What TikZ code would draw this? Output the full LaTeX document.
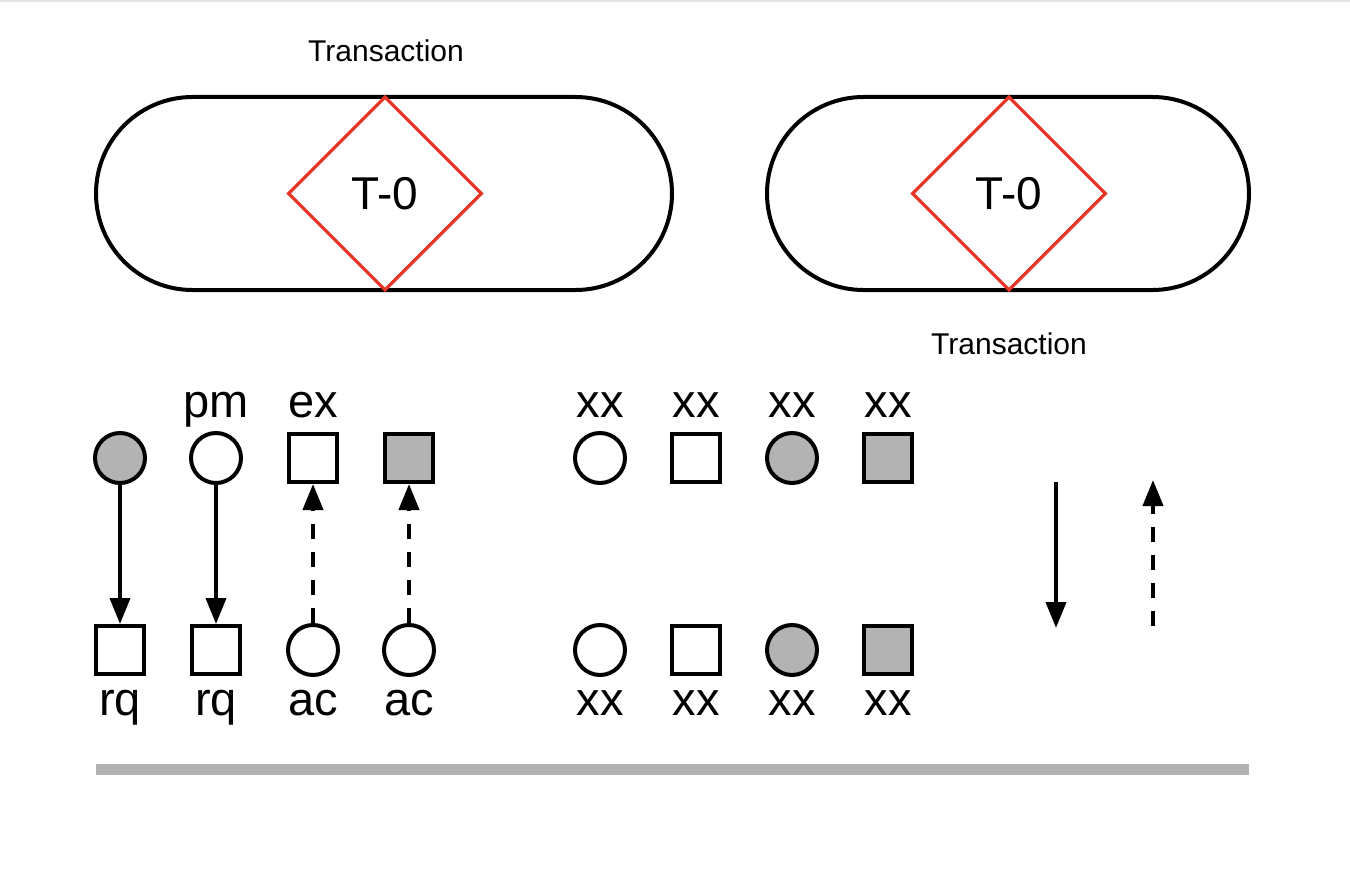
\documentclass[tikz,border=0pt]{standalone}
\usepackage{fontspec}
\setmainfont{Liberation Sans}
\usetikzlibrary{shapes.geometric,shapes.misc,arrows.meta}
\definecolor{tred}{RGB}{232,52,38}
\definecolor{sgray}{RGB}{179,179,179}
\definecolor{lgray}{RGB}{228,228,228}
\tikzset{
  stadium/.style={draw, rounded rectangle, line width=4pt, minimum height=193pt, inner sep=0pt},
  tdiam/.style={draw=tred, diamond, line width=3.2pt, minimum width=194pt, minimum height=194pt, inner sep=0pt, font=\fontsize{46}{52}\selectfont},
  lbl/.style={font=\fontsize{47}{54}\selectfont, inner sep=0pt, anchor=base},
  tlbl/.style={font=\fontsize{30}{36}\selectfont, inner sep=0pt, anchor=base},
  circ/.style={draw, circle, line width=4pt, minimum size=50pt, inner sep=0pt},
  sq/.style={draw, rectangle, line width=4pt, minimum size=48pt, inner sep=0pt},
  gfill/.style={fill=sgray},
  solidarr/.style={line width=4pt, -{Triangle[length=26pt,width=20pt]}},
  dasharr/.style={line width=4pt, dash pattern=on 15pt off 13pt, -{Triangle[length=26pt,width=20pt]}},
}
\begin{document}
\begin{tikzpicture}[x=1pt,y=-1pt]
\useasboundingbox (0,0) rectangle (1350,880);
\fill[white] (0,0) rectangle (1350,880);
\fill[lgray] (0,0) rectangle (1350,2);

% transactions
\node[stadium, minimum width=576pt] (s1) at (384,193.5) {};
\node[tdiam] (d1) at (385,193.5) {T-0};
\node[tlbl] (t1) at (386,62) {Transaction};
\node[stadium, minimum width=482pt] (s2) at (1008,193.5) {};
\node[tdiam] (d2) at (1009,193.5) {T-0};
\node[tlbl] (t2) at (1009,354) {Transaction};

% left group
\node[circ, gfill] (a1) at (120,458) {};
\node[circ] (a2) at (216,458) {};
\node[sq] (a3) at (313,458) {};
\node[sq, gfill] (a4) at (409,458) {};
\node[sq] (b1) at (120,650) {};
\node[sq] (b2) at (216,650) {};
\node[circ] (b3) at (313,650) {};
\node[circ] (b4) at (409,650) {};
\node[lbl] (lpm) at (216,417) {pm};
\node[lbl] (lex) at (313,417) {ex};
\node[lbl] (lr1) at (120,715) {rq};
\node[lbl] (lr2) at (216,715) {rq};
\node[lbl] (la1) at (313,715) {ac};
\node[lbl] (la2) at (409,715) {ac};
\draw[solidarr] (a1) -- (b1);
\draw[solidarr] (a2) -- (b2);
\draw[dasharr] (b3) -- (a3);
\draw[dasharr] (b4) -- (a4);

% right group
\node[circ] (c1) at (600,458) {};
\node[sq] (c2) at (696,458) {};
\node[circ, gfill] (c3) at (792,458) {};
\node[sq, gfill] (c4) at (888,458) {};
\node[circ] (e1) at (600,650) {};
\node[sq] (e2) at (696,650) {};
\node[circ, gfill] (e3) at (792,650) {};
\node[sq, gfill] (e4) at (888,650) {};
\foreach \x/\n in {600/1,696/2,792/3,888/4}{
  \node[lbl] (xt\n) at (\x,417) {xx};
  \node[lbl] (xb\n) at (\x,715) {xx};
}

% legend arrows
\coordinate (ls1) at (1056,482);
\coordinate (le1) at (1056,628);
\coordinate (ls2) at (1153,626);
\coordinate (le2) at (1153,480);
\draw[solidarr] (ls1) -- (le1);
\draw[dasharr] (ls2) -- (le2);

% bar
\fill[sgray] (96,764) rectangle (1249,775);
\end{tikzpicture}
\end{document}
